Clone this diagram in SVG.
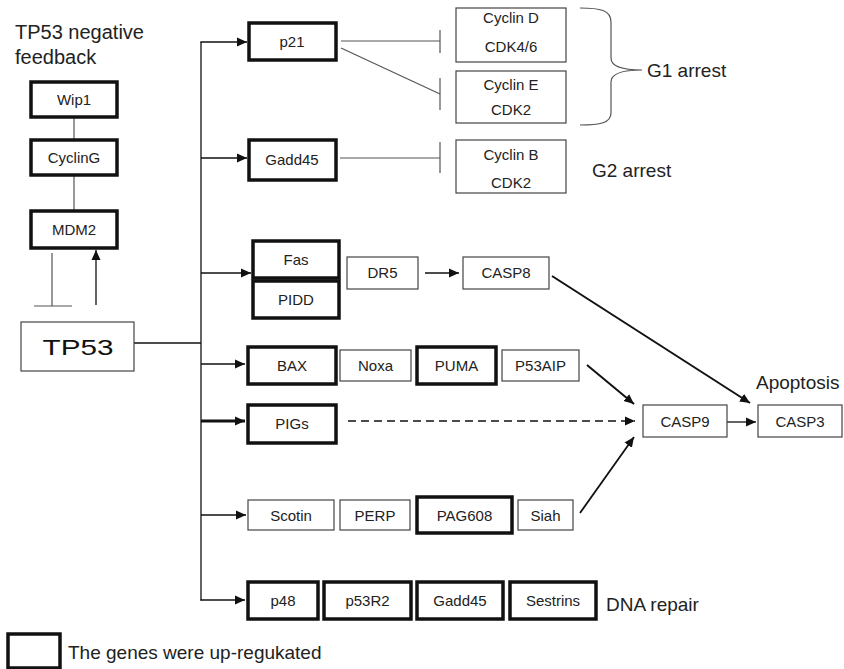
<svg xmlns="http://www.w3.org/2000/svg" width="844" height="669" viewBox="0 0 844 669">
<style>
text{font-family:"Liberation Sans",Arial,sans-serif;fill:#222}
.lb{font-size:15px;text-anchor:middle}
.big{font-size:19px}
.thick{fill:#fff;stroke:#111;stroke-width:3.5}
.thin{fill:#fff;stroke:#444;stroke-width:1.2}
.ln{stroke:#111;stroke-width:1.3;fill:none}
.gl{stroke:#555;stroke-width:1.2;fill:none}
</style>
<defs>
<marker id="ah" markerUnits="userSpaceOnUse" markerWidth="12" markerHeight="10" refX="10" refY="5" orient="auto">
<path d="M0,0.5 L10,5 L0,9.5 Z" fill="#111"/>
</marker>
</defs>

<text class="big" x="15" y="39" style="font-size:20px">TP53 negative</text>
<text class="big" x="15" y="64" style="font-size:20px">feedback</text>

<g id="connectors">
<line class="gl" x1="74" y1="117" x2="74" y2="140"/>
<line class="gl" x1="74" y1="175" x2="74" y2="210"/>
<line class="gl" x1="52" y1="253" x2="52" y2="306"/>
<line class="gl" x1="34" y1="306" x2="72" y2="306"/>
<line class="ln" x1="96" y1="305" x2="96" y2="250" marker-end="url(#ah)"/>
<line class="ln" x1="134" y1="343" x2="201" y2="343"/>
<line class="ln" x1="201" y1="42" x2="201" y2="600.6"/>
<line class="ln" x1="200.4" y1="42" x2="247" y2="42" marker-end="url(#ah)"/>
<line class="ln" x1="201" y1="158" x2="247" y2="158" marker-end="url(#ah)"/>
<line class="ln" x1="201" y1="273" x2="251" y2="273" marker-end="url(#ah)"/>
<line class="ln" x1="201" y1="364" x2="245" y2="364" marker-end="url(#ah)"/>
<line class="ln" x1="201" y1="421" x2="245" y2="421" marker-end="url(#ah)" style="stroke-width:3"/>
<line class="ln" x1="201" y1="515" x2="246" y2="515" marker-end="url(#ah)"/>
<line class="ln" x1="200.4" y1="600" x2="245" y2="600" marker-end="url(#ah)"/>
<line class="gl" x1="341" y1="41" x2="440" y2="41"/>
<line class="gl" x1="440" y1="30" x2="440" y2="53"/>
<line class="gl" x1="341" y1="48" x2="440" y2="94"/>
<line class="gl" x1="440" y1="78" x2="440" y2="110"/>
<line class="gl" x1="340" y1="158" x2="440" y2="158"/>
<line class="gl" x1="440" y1="142" x2="440" y2="173"/>
<path class="gl" d="M580,8 C600,8 611,10 611,22 L611,58 C611,66 622,70 642,70 C622,70 611,74 611,82 L611,113 C611,123 600,125 580,125"/>
<line class="ln" x1="425" y1="273" x2="459" y2="273" marker-end="url(#ah)"/>
<line class="ln" x1="552" y1="276" x2="750" y2="403" marker-end="url(#ah)" style="stroke-width:2"/>
<line class="ln" x1="587" y1="365" x2="634" y2="404" marker-end="url(#ah)" style="stroke-width:2"/>
<line class="ln" x1="348" y1="421" x2="635" y2="421" marker-end="url(#ah)" style="stroke-dasharray:8 5"/>
<line class="ln" x1="580" y1="513" x2="634" y2="437" marker-end="url(#ah)" style="stroke-width:1.8"/>
<line class="ln" x1="727" y1="422" x2="756" y2="422" marker-end="url(#ah)"/>
</g>

<g id="n-wip1"><rect class="thick" x="31" y="82" width="86" height="35"/><text class="lb" x="74" y="105">Wip1</text></g>
<g id="n-cycling"><rect class="thick" x="31" y="140" width="86" height="35"/><text class="lb" x="74" y="163">CyclinG</text></g>
<g id="n-mdm2"><rect class="thick" x="31" y="211" width="86" height="37"/><text class="lb" x="74" y="235">MDM2</text></g>
<g id="n-tp53"><rect class="thin" x="21" y="322" width="113" height="49"/><text x="78" y="355" style="font-size:22px;text-anchor:middle;fill:#111" textLength="71" lengthAdjust="spacingAndGlyphs">TP53</text></g>

<g id="n-p21"><rect class="thick" x="249" y="23" width="87" height="37"/><text class="lb" x="292" y="47">p21</text></g>
<g id="n-cyclind"><rect class="thin" x="456" y="8" width="110" height="54"/><text class="lb" x="511" y="23">Cyclin D</text><text class="lb" x="511" y="52">CDK4/6</text></g>
<g id="n-cycline"><rect class="thin" x="456" y="71" width="110" height="52"/><text class="lb" x="511" y="90">Cyclin E</text><text class="lb" x="511" y="115">CDK2</text></g>
<g id="n-gadd45a"><rect class="thick" x="249" y="140" width="87" height="40"/><text class="lb" x="292" y="165">Gadd45</text></g>
<g id="n-cyclinb"><rect class="thin" x="456" y="140" width="110" height="53"/><text class="lb" x="511" y="160">Cyclin B</text><text class="lb" x="511" y="188">CDK2</text></g>
<text class="big" x="647" y="77">G1 arrest</text>
<text class="big" x="592" y="177">G2 arrest</text>

<g id="n-fas"><rect class="thick" x="253" y="241" width="86" height="37"/><text class="lb" x="296" y="265">Fas</text></g>
<g id="n-pidd"><rect class="thick" x="253" y="281" width="86" height="37"/><text class="lb" x="296" y="305">PIDD</text></g>
<g id="n-dr5"><rect class="thin" x="347" y="257" width="71" height="32"/><text class="lb" x="382.5" y="278">DR5</text></g>
<g id="n-casp8"><rect class="thin" x="463" y="257" width="86" height="32"/><text class="lb" x="506" y="278">CASP8</text></g>

<g id="n-bax"><rect class="thick" x="248" y="347" width="88" height="37"/><text class="lb" x="292" y="371">BAX</text></g>
<g id="n-noxa"><rect class="thin" x="340" y="350" width="71" height="31"/><text class="lb" x="375.5" y="371">Noxa</text></g>
<g id="n-puma"><rect class="thick" x="417" y="347" width="79" height="37"/><text class="lb" x="456.5" y="371">PUMA</text></g>
<g id="n-p53aip"><rect class="thin" x="502" y="350" width="77" height="31"/><text class="lb" x="540.5" y="371">P53AIP</text></g>
<text class="big" x="756" y="389">Apoptosis</text>

<g id="n-pigs"><rect class="thick" x="248" y="405" width="88" height="38"/><text class="lb" x="292" y="429">PIGs</text></g>
<g id="n-casp9"><rect class="thin" x="643" y="405" width="84" height="32"/><text class="lb" x="685" y="427">CASP9</text></g>
<g id="n-casp3"><rect class="thin" x="758" y="405" width="84" height="32"/><text class="lb" x="800" y="427">CASP3</text></g>

<g id="n-scotin"><rect class="thin" x="248" y="500" width="86" height="30"/><text class="lb" x="291" y="521">Scotin</text></g>
<g id="n-perp"><rect class="thin" x="340" y="500" width="70" height="30"/><text class="lb" x="375" y="521">PERP</text></g>
<g id="n-pag608"><rect class="thick" x="417" y="497" width="95" height="36"/><text class="lb" x="464.5" y="521">PAG608</text></g>
<g id="n-siah"><rect class="thin" x="518" y="500" width="55" height="30"/><text class="lb" x="545.5" y="521">Siah</text></g>

<g id="n-p48"><rect class="thick" x="248" y="582" width="70" height="37"/><text class="lb" x="283" y="606">p48</text></g>
<g id="n-p53r2"><rect class="thick" x="324" y="582" width="87" height="37"/><text class="lb" x="367.5" y="606">p53R2</text></g>
<g id="n-gadd45b"><rect class="thick" x="417" y="582" width="86" height="37"/><text class="lb" x="460" y="606">Gadd45</text></g>
<g id="n-sestrins"><rect class="thick" x="510" y="582" width="86" height="37"/><text class="lb" x="553" y="606">Sestrins</text></g>
<text class="big" x="606" y="611">DNA repair</text>

<g id="legend"><rect class="thick" x="8" y="634" width="52" height="34"/><text x="68" y="659" style="font-size:19px">The genes were up-regukated</text></g>
</svg>
